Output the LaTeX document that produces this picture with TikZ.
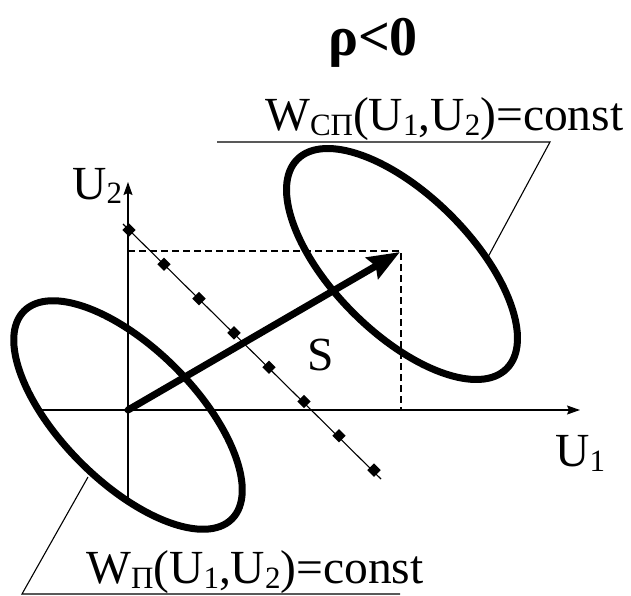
\documentclass[tikz,border=0pt]{standalone}
\usepackage{fontspec}
\setmainfont{Liberation Serif}
\usetikzlibrary{arrows.meta,shapes.geometric}
\newcommand\subtxt[1]{\raisebox{-5pt}{\fontsize{31}{31}\selectfont #1}}
\begin{document}
\begin{tikzpicture}[x=1pt,y=-1pt,
  thinline/.style={line width=1.1pt},
  axisline/.style={line width=1.3pt,-{Stealth[length=13pt,width=9pt,inset=2pt]}},
  dashline/.style={line width=1.3pt,dash pattern=on 7pt off 4pt},
  bigell/.style={line width=7pt},
  sarrow/.style={line width=7pt,line cap=round,-{Stealth[length=32pt,width=24pt,inset=4pt]}},
  dmd/.style={diamond,fill=black,inner sep=0pt,minimum size=13.5pt},
  lbl/.style={font=\fontsize{47.5}{47.5}\selectfont,inner sep=0pt,anchor=base west},
  title/.style={font=\fontsize{56}{56}\selectfont\bfseries,inner sep=0pt,anchor=base}]
\useasboundingbox (0,0) rectangle (631,596);
% title
\node[title] (ttl) at (373,56) {ρ<0};
% coordinates
\coordinate (O) at (128,410);
\coordinate (ybot) at (128,500);
\coordinate (ytop) at (128,182);
\coordinate (xleft) at (40,410);
\coordinate (xright) at (580,410);
\coordinate (T) at (400,252);
\coordinate (dy) at (128,251);
\coordinate (dc) at (401,251);
\coordinate (dx) at (401,410);
% axes
\draw[axisline] (ybot) -- (ytop);
\draw[axisline] (xleft) -- (xright);
\node[lbl] (u2) at (72,199) {U\subtxt{2}};
\node[lbl] (u1) at (555,466) {U\subtxt{1}};
% dashed projections
\draw[dashline] (dy) -- (dc) -- (dx);
% diagonal line with diamonds
\coordinate (ds) at (123,224);
\coordinate (de) at (381,479);
\draw[thinline] (ds) -- (de);
\foreach \i in {0,...,7}
  \node[dmd] (dm\i) at ({129+35*\i},{230+34.3*\i}) {};
% ellipses
\coordinate (cl) at (128,415);
\coordinate (cr) at (402,264);
\draw[bigell,rotate around={-45:(cl)}] (cl) ellipse [x radius=147pt,y radius=67pt];
\draw[bigell,rotate around={-45:(cr)}] (cr) ellipse [x radius=148pt,y radius=69pt];
% vector S
\draw[sarrow] (O) -- (T);
\node[font=\fontsize{47.5}{47.5}\selectfont,inner sep=0pt,anchor=base] (s) at (320.5,370) {S};
% top label
\node[lbl] (wsp) at (265,131) {W\subtxt{СП}(U\subtxt{1},U\subtxt{2})=const};
\coordinate (tl1) at (217,142);
\coordinate (tl2) at (550,142);
\coordinate (tl3) at (488,257);
\draw[thinline] (tl1) -- (tl2) -- (tl3);
% bottom label
\node[lbl] (wp) at (86,583) {W\subtxt{П}(U\subtxt{1},U\subtxt{2})=const};
\coordinate (bl1) at (400,594);
\coordinate (bl2) at (22,594);
\coordinate (bl3) at (88,477);
\draw[thinline] (bl1) -- (bl2) -- (bl3);
\end{tikzpicture}
\end{document}
